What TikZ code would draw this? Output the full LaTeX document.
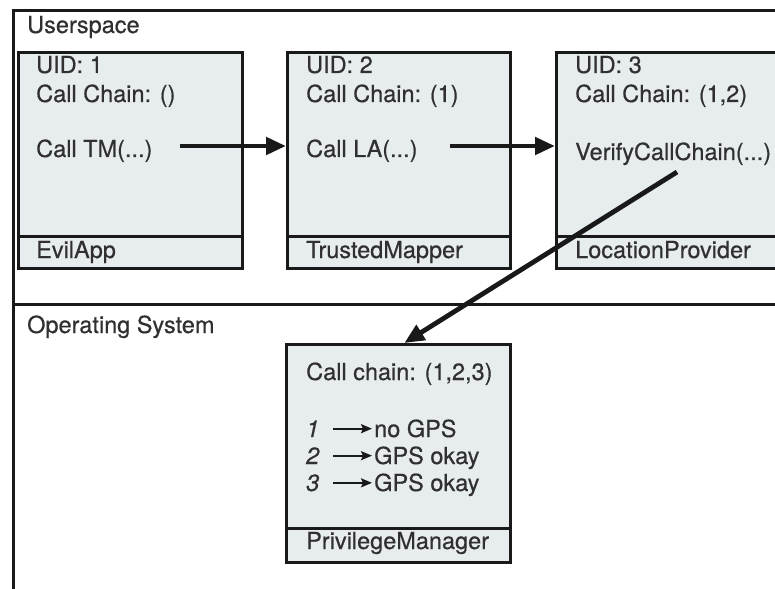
\documentclass[tikz,border=0pt]{standalone}
\usepackage{fontspec}
\setmainfont{TeX Gyre Heros}
\newfontfamily\diafont{TeX Gyre Heros}[FakeBold=0.5]
\usetikzlibrary{arrows.meta}
\definecolor{boxfill}{RGB}{231,236,239}
\definecolor{ink}{RGB}{25,25,25}
\definecolor{txtc}{RGB}{48,48,48}
\begin{document}
\begin{tikzpicture}[x=1pt,y=-1pt,
  txt/.style={inner sep=0pt, anchor=base west, text=txtc, font=\diafont\fontsize{23.5}{27}\selectfont},
  boxbody/.style={draw=ink, line width=2.6pt, fill=boxfill, rectangle, inner sep=0pt, anchor=north west},
  frame/.style={draw=ink, line width=3pt},
  bigarrow/.style={draw=ink, line width=4.8pt, -{Triangle[length=20pt,width=17pt]}},
  smallarrow/.style={draw=ink, line width=2pt, -{Stealth[length=11pt,width=9pt,inset=2pt]}}]
\useasboundingbox (0,0) rectangle (775,588);
\clip (0,0) rectangle (775,588);
\fill[white] (0,0) rectangle (775,588);
% outer frame
\draw[frame] (13,600) -- (13,11) -- (790,11);
\draw[frame] (13,304) -- (790,304);
\node[txt] (us) at (27,33) {Userspace};
\node[txt] (os) at (27,333) {Operating System};
% box 1
\node[boxbody, minimum width=224pt, minimum height=184pt] (b1) at (17,51) {};
\node[boxbody, minimum width=224pt, minimum height=32pt] (b1n) at (17,235) {};
\node[txt] (b1uid) at (36,73) {UID: 1};
\node[txt] (b1cc) at (36,102) {Call Chain: ()};
\node[txt] (calltm) at (36,157) {Call TM(...)};
\node[txt] (evil) at (36,258) {EvilApp};
% box 2
\node[boxbody, minimum width=223pt, minimum height=184pt] (b2) at (286,51) {};
\node[boxbody, minimum width=223pt, minimum height=32pt] (b2n) at (286,235) {};
\node[txt] (b2uid) at (306,73) {UID: 2};
\node[txt] (b2cc) at (306,102) {Call Chain: (1)};
\node[txt] (callla) at (306,157) {Call LA(...)};
\node[txt] (tm) at (306,258) {TrustedMapper};
% box 3
\node[boxbody, minimum width=245pt, minimum height=184pt] (b3) at (555,51) {};
\node[boxbody, minimum width=245pt, minimum height=32pt] (b3n) at (555,235) {};
\node[txt] (b3uid) at (575,73) {UID: 3};
\node[txt] (b3cc) at (575,102) {Call Chain: (1,2)};
\node[txt] (verify) at (575,160) {VerifyCallChain(...)};
\node[txt] (lp) at (575,258) {LocationProvider};
% box 4
\node[boxbody, minimum width=224pt, minimum height=184pt] (b4) at (285,343) {};
\node[boxbody, minimum width=224pt, minimum height=34pt] (b4n) at (285,527) {};
\node[txt] (b4cc) at (306,380) {Call chain: (1,2,3)};
\node[txt] (k1) at (306,437) {\itshape 1};
\node[txt] (k2) at (306,464) {\itshape 2};
\node[txt] (k3) at (306,491) {\itshape 3};
\node[txt] (v1) at (374,437) {no GPS};
\node[txt] (v2) at (374,464) {GPS okay};
\node[txt] (v3) at (374,491) {GPS okay};
\node[txt] (pm) at (306,549) {PrivilegeManager};
\draw[smallarrow] ([xshift=27pt]k1.west) -- ([xshift=-2pt]v1.west |- k1.west);
\draw[smallarrow] ([xshift=27pt]k2.west) -- ([xshift=-2pt]v2.west |- k2.west);
\draw[smallarrow] ([xshift=27pt]k3.west) -- ([xshift=-2pt]v3.west |- k3.west);
% big arrows
\coordinate (a1) at (180,146);
\coordinate (a2) at (450,146);
\coordinate (a3) at (677,172);
\draw[bigarrow] (a1) -- (a1 -| b2.west);
\draw[bigarrow] (a2) -- (a2 -| b3.west);
\draw[bigarrow] (a3) -- ([xshift=6pt]b4.north);
\end{tikzpicture}
\end{document}
